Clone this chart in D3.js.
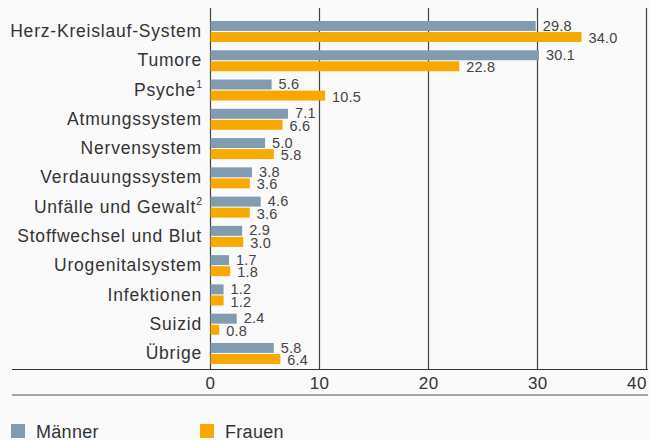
<!DOCTYPE html>
<meta charset="utf-8">
<style>
body { margin: 0; background: #fafafa; }
svg text { font-family: 'Liberation Sans', Arial, sans-serif; fill: #333; }
.cat { font-size: 17.5px; letter-spacing: 0.8px; }
.val { font-size: 14.5px; fill: #444; letter-spacing: 0.2px; }
.tick-label { font-size: 17px; letter-spacing: 0.5px; }
.legend text { font-size: 18px; letter-spacing: 0.3px; }
</style>
<svg id="svg" width="649" height="440"></svg>
<script src="https://cdn.jsdelivr.net/npm/d3@7"></script>
<script>
const categories = ['Herz-Kreislauf-System', 'Tumore', 'Psyche', 'Atmungssystem', 'Nervensystem',
  'Verdauungssystem', 'Unfälle und Gewalt', 'Stoffwechsel und Blut', 'Urogenitalsystem',
  'Infektionen', 'Suizid', 'Übrige']
const footnotes = {'Psyche': '1', 'Unfälle und Gewalt': '2'}
const maenner = [29.8, 30.1, 5.6, 7.1, 5.0, 3.8, 4.6, 2.9, 1.7, 1.2, 2.4, 5.8]
const frauen = [34.0, 22.8, 10.5, 6.6, 5.8, 3.6, 3.6, 3.0, 1.8, 1.2, 0.8, 6.4]
const series = ['Männer', 'Frauen']
const xTicks = [0, 10, 20, 30, 40]

const colors = {'Männer': '#819cb0', 'Frauen': '#f7a900'}
const labelShift = {'Männer': -0.5, 'Frauen': 1}

const svg = d3.select('#svg')

const x = d3.scaleLinear().domain([0, 40]).range([210.5, 647])
const y = d3.scaleBand().domain(categories).range([16, 16 + 12 * 29.27]).paddingInner(0)
const ySub = d3.scaleBand().domain(series).range([5, 26]).paddingInner(0.1)

const rows = categories.map((c, i) => ({cat: c, values: [
  {s: 'Männer', v: maenner[i]}, {s: 'Frauen', v: frauen[i]}
]}))

// grid lines
svg.append('g').selectAll('line').data(xTicks).enter().append('line')
  .attr('x1', d => Math.round(x(d)) - 0.5).attr('x2', d => Math.round(x(d)) - 0.5)
  .attr('y1', 8).attr('y2', 369)
  .attr('stroke', '#444').attr('stroke-width', 1.2)

const row = svg.selectAll('.row').data(rows).enter().append('g')
  .attr('class', 'row')
  .attr('transform', d => 'translate(0,' + y(d.cat) + ')')

row.selectAll('rect').data(d => d.values).enter().append('rect')
  .attr('x', x(0))
  .attr('y', d => ySub(d.s))
  .attr('width', d => x(d.v) - x(0))
  .attr('height', ySub.bandwidth())
  .attr('fill', d => colors[d.s])

row.selectAll('.val').data(d => d.values).enter().append('text')
  .attr('class', 'val')
  .attr('x', d => x(d.v) + 7)
  .attr('y', d => ySub(d.s) + ySub.bandwidth() / 2 + labelShift[d.s])
  .attr('dy', '0.35em')
  .text(d => d3.format('.1f')(d.v))

const lab = row.append('text')
  .attr('class', 'cat')
  .attr('x', 202)
  .attr('y', 15)
  .attr('dy', '0.35em')
  .attr('text-anchor', 'end')
lab.append('tspan').text(d => d.cat)
lab.filter(d => footnotes[d.cat]).append('tspan')
  .attr('font-size', '10.5px').attr('dy', '-0.75em').attr('letter-spacing', '0')
  .text(d => footnotes[d.cat])

// axis lines
svg.append('line').attr('x1', 12).attr('x2', 648).attr('y1', 369.5).attr('y2', 369.5)
  .attr('stroke', '#333').attr('stroke-width', 1.2)
svg.append('line').attr('x1', 12).attr('x2', 648).attr('y1', 395).attr('y2', 395)
  .attr('stroke', '#888').attr('stroke-width', 1.5)

svg.append('g').selectAll('text').data(xTicks).enter().append('text')
  .attr('class', 'tick-label')
  .attr('x', d => x(d))
  .attr('y', 383)
  .attr('dy', '0.35em')
  .attr('text-anchor', (d, i) => i === xTicks.length - 1 ? 'end' : 'middle')
  .text(d => d)

// legend
const legend = svg.append('g').attr('class', 'legend')
  .selectAll('g').data(series).enter().append('g')
  .attr('transform', (d, i) => 'translate(' + (11 + i * 189) + ',424)')
legend.append('rect').attr('width', 14).attr('height', 14).attr('fill', d => colors[d])
legend.append('text').attr('x', 25).attr('y', 14).text(d => d)
</script>
